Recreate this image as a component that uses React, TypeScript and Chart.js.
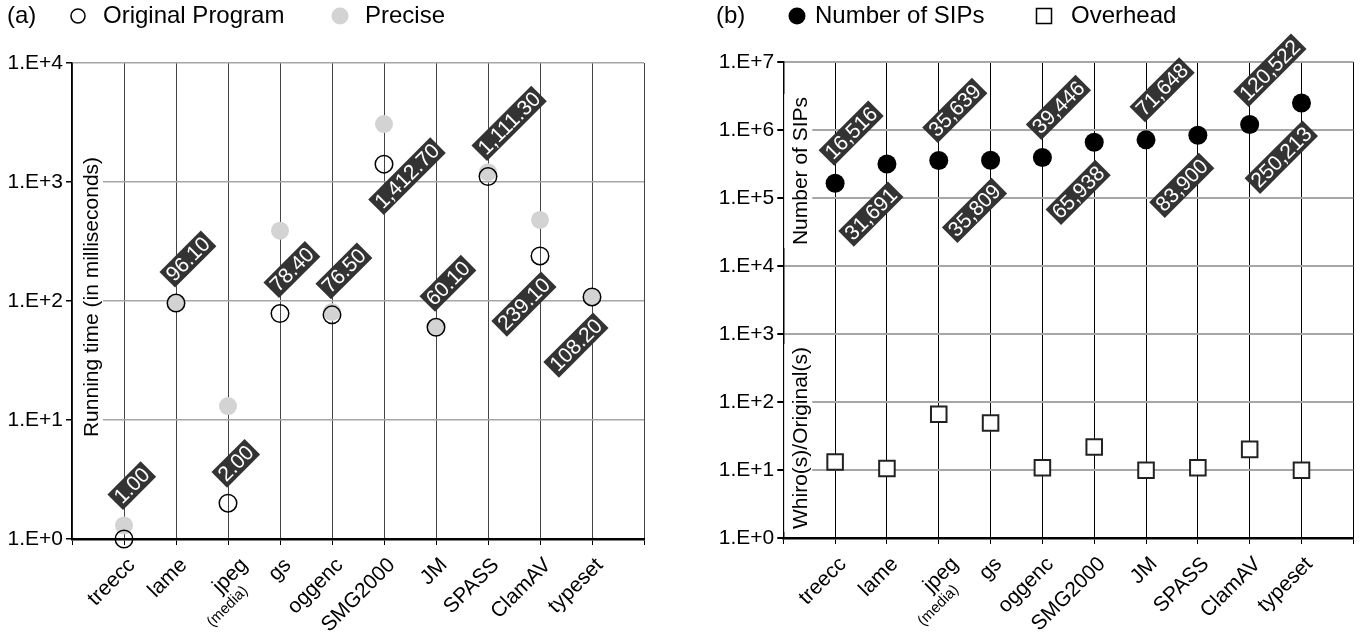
import React, { useEffect, useRef } from 'react';
import { Chart, registerables } from 'chart.js';

Chart.register(...registerables);

// ---------- data ----------
const categories = ['treecc', 'lame', 'jpeg', 'gs', 'oggenc', 'SMG2000', 'JM', 'SPASS', 'ClamAV', 'typeset'];
const categoryNotes = ['', '', '(media)', '', '', '', '', '', '', ''];

// (a) running time in milliseconds
const originalTimes = [1.0, 96.1, 2.0, 78.4, 76.5, 1412.7, 60.1, 1111.3, 239.1, 108.2];
const preciseTimes = [1.3, 96.1, 13.1, 390, 81, 3070, 60.1, 1210, 480, 108.2];
const originalLabels = ['1.00', '96.10', '2.00', '78.40', '76.50', '1,412.70', '60.10', '1,111.30', '239.10', '108.20'];
const originalLabelPlacement = ['abovePair', 'above', 'above', 'above', 'above', 'beside', 'above', 'above', 'below', 'below'];
const leftTickValues = [1, 10, 100, 1000, 10000];

// (b) number of SIPs and overhead
const sipCounts = [165160, 316910, 356390, 358090, 394460, 659380, 716480, 839000, 1205220, 2502130];
const sipLabels = ['16,516', '31,691', '35,639', '35,809', '39,446', '65,938', '71,648', '83,900', '120,522', '250,213'];
const sipLabelPlacement = ['above', 'below', 'above', 'below', 'above', 'below', 'above', 'below', 'above', 'below'];
const overheadRatios = [13.1, 10.5, 66, 49, 10.8, 21.8, 9.9, 10.8, 20.1, 9.9];
const rightTickValues = [1, 10, 100, 1000, 10000, 100000, 1000000, 10000000];

// ---------- helpers ----------
const FONT = '"Liberation Sans", Arial, Helvetica, sans-serif';
const K = Math.SQRT1_2;

function drawTag(ctx: CanvasRenderingContext2D, text: string, px: number, py: number, mode: string, r: number, gap: number) {
  ctx.save();
  ctx.font = `21px ${FONT}`;
  const tw = ctx.measureText(text).width;
  const W = tw + 6;
  const H = 22;
  let cx = px;
  let cy = py;
  if (mode === 'below') {
    const ax = px + 1;
    const ay = py + r + gap;
    cx = ax - K * (W / 2 - H / 2);
    cy = ay + K * (W / 2 + H / 2);
  } else if (mode === 'beside') {
    cx = px + 23;
    cy = py + 12;
  } else {
    const ax = px - 1;
    const ay = py - r - gap;
    cx = ax - K * (-W / 2 + H / 2);
    cy = ay - K * (W / 2 + H / 2);
  }
  ctx.translate(cx, cy);
  ctx.rotate(-Math.PI / 4);
  ctx.fillStyle = '#333333';
  ctx.fillRect(-W / 2, -H / 2, W, H);
  ctx.fillStyle = '#ffffff';
  ctx.textAlign = 'center';
  ctx.textBaseline = 'middle';
  ctx.fillText(text, 0, 1);
  ctx.restore();
}

function drawCategoryLabels(chart: any) {
  const ctx: CanvasRenderingContext2D = chart.ctx;
  const xs = chart.scales.x;
  const bottom = chart.chartArea.bottom;
  ctx.save();
  ctx.fillStyle = '#000';
  categories.forEach((c, i) => {
    const x = xs.getPixelForValue(i + 1);
    ctx.save();
    ctx.translate(x + 12, bottom + 27);
    ctx.rotate(-Math.PI / 4);
    ctx.textAlign = 'right';
    ctx.textBaseline = 'alphabetic';
    const note = categoryNotes[i];
    if (note) {
      ctx.font = `21px ${FONT}`;
      ctx.fillText(c, 6, 6);
      ctx.font = `15px ${FONT}`;
      ctx.fillText(note, -12, 24);
    } else {
      ctx.font = `21px ${FONT}`;
      ctx.fillText(c, 0, 0);
    }
    ctx.restore();
  });
  ctx.restore();
}

function drawAxisTitle(ctx: CanvasRenderingContext2D, text: string, cx: number, cy: number, boxLeft: number, boxRight: number) {
  ctx.save();
  ctx.font = `21px ${FONT}`;
  const tw = ctx.measureText(text).width;
  ctx.fillStyle = '#ffffff';
  ctx.fillRect(boxLeft, cy - tw / 2 - 3, boxRight - boxLeft, tw + 6);
  ctx.translate(cx, cy);
  ctx.rotate(-Math.PI / 2);
  ctx.fillStyle = '#000';
  ctx.textAlign = 'center';
  ctx.textBaseline = 'middle';
  ctx.fillText(text, 0, 0);
  ctx.restore();
}

function expLabel(v: any) {
  return '1.E+' + Math.round(Math.log10(Number(v)));
}

function makeScales(ticks: number[], yMax: number, yWidth: number, xHeight: number, vColor: string, hWidth: number) {
  return {
    x: {
      type: 'linear',
      min: 0,
      max: categories.length + 1,
      afterBuildTicks: (s: any) => {
        s.ticks = [0, ...categories.map((_, i) => i + 1), categories.length + 1].map((v) => ({ value: v }));
      },
      ticks: { display: false },
      grid: { color: vColor, lineWidth: 1, tickColor: '#000', tickLength: 6, drawTicks: true },
      border: { color: '#000', width: 2.5 },
      afterFit: (s: any) => {
        s.height = xHeight;
      },
    },
    y: {
      type: 'logarithmic',
      min: 1,
      max: yMax,
      afterBuildTicks: (s: any) => {
        s.ticks = ticks.map((v) => ({ value: v }));
      },
      ticks: {
        callback: (v: any) => expLabel(v),
        font: { family: FONT, size: 21 },
        color: '#000',
        padding: 3,
        autoSkip: false,
      },
      grid: { color: '#a6a6a6', lineWidth: hWidth, tickColor: '#000', tickLength: 6 },
      border: { color: '#000', width: 1.5 },
      afterFit: (s: any) => {
        s.width = yWidth;
      },
    },
  };
}

export default function App() {
  const leftRef = useRef<HTMLCanvasElement>(null);
  const rightRef = useRef<HTMLCanvasElement>(null);

  useEffect(() => {
    const leftPlugin = {
      id: 'leftDecor',
      beforeDatasetsDraw(chart: any) {
        const a = chart.chartArea;
        drawAxisTitle(chart.ctx, 'Running time (in milliseconds)', 92, 297, a.left + 1, a.left + 31);
      },
      afterDatasetsDraw(chart: any) {
        const ctx = chart.ctx;
        const orig = chart.getDatasetMeta(0).data;
        const prec = chart.getDatasetMeta(1).data;
        originalLabels.forEach((t, i) => {
          const p = orig[i];
          let mode = originalLabelPlacement[i];
          let py = p.y;
          if (mode === 'abovePair') {
            py = Math.min(p.y, prec[i].y);
            mode = 'above';
          }
          drawTag(ctx, t, p.x, py, mode, 9.5, 6);
        });
      },
      afterDraw(chart: any) {
        const ctx: CanvasRenderingContext2D = chart.ctx;
        drawCategoryLabels(chart);
        ctx.save();
        ctx.font = `24px ${FONT}`;
        ctx.fillStyle = '#000';
        ctx.textBaseline = 'middle';
        ctx.textAlign = 'left';
        ctx.fillText('(a)', 7, 16);
        ctx.beginPath();
        ctx.arc(78, 16, 7, 0, Math.PI * 2);
        ctx.lineWidth = 1.5;
        ctx.strokeStyle = '#000';
        ctx.stroke();
        ctx.fillText('Original Program', 103, 16);
        ctx.beginPath();
        ctx.arc(340, 16, 8.5, 0, Math.PI * 2);
        ctx.fillStyle = '#d3d3d3';
        ctx.fill();
        ctx.fillStyle = '#000';
        ctx.fillText('Precise', 365, 16);
        ctx.restore();
      },
    };

    const rightPlugin = {
      id: 'rightDecor',
      beforeDatasetsDraw(chart: any) {
        const a = chart.chartArea;
        drawAxisTitle(chart.ctx, 'Number of SIPs', 121, 171, a.left + 1, a.left + 29);
        drawAxisTitle(chart.ctx, 'Whiro(s)/Original(s)', 121, 438, a.left + 1, a.left + 29);
      },
      afterDatasetsDraw(chart: any) {
        const ctx = chart.ctx;
        const sip = chart.getDatasetMeta(0).data;
        sipLabels.forEach((t, i) => {
          const p = sip[i];
          drawTag(ctx, t, p.x, p.y, sipLabelPlacement[i], 9.5, 8);
        });
      },
      afterDraw(chart: any) {
        const ctx: CanvasRenderingContext2D = chart.ctx;
        drawCategoryLabels(chart);
        ctx.save();
        ctx.font = `24px ${FONT}`;
        ctx.fillStyle = '#000';
        ctx.textBaseline = 'middle';
        ctx.textAlign = 'left';
        ctx.fillText('(b)', 36, 16);
        ctx.beginPath();
        ctx.arc(117, 16, 8.5, 0, Math.PI * 2);
        ctx.fill();
        ctx.fillText('Number of SIPs', 135, 16);
        ctx.lineWidth = 1.5;
        ctx.strokeStyle = '#000';
        ctx.strokeRect(356.5, 8.5, 15, 15);
        ctx.fillText('Overhead', 391, 16);
        ctx.restore();
      },
    };

    const left = new Chart(leftRef.current as HTMLCanvasElement, {
      type: 'scatter',
      data: {
        datasets: [
          {
            label: 'Original Program',
            data: originalTimes.map((v, i) => ({ x: i + 1, y: v })),
            pointStyle: 'circle',
            pointRadius: 8.75,
            pointBackgroundColor: 'rgba(0,0,0,0)',
            pointBorderColor: '#000',
            pointBorderWidth: 1.5,
            clip: false,
          } as any,
          {
            label: 'Precise',
            data: preciseTimes.map((v, i) => ({ x: i + 1, y: v })),
            pointStyle: 'circle',
            pointRadius: 9,
            pointBackgroundColor: '#d3d3d3',
            pointBorderWidth: 0,
            clip: false,
          } as any,
        ],
      },
      options: {
        responsive: false,
        animation: false,
        events: [],
        layout: { padding: { left: 0, top: 63, right: 36, bottom: 0 } },
        plugins: { legend: { display: false }, tooltip: { enabled: false } },
        scales: makeScales(leftTickValues, 10000, 72, 94, '#444444', 1.5) as any,
      },
      plugins: [leftPlugin],
    });

    const right = new Chart(rightRef.current as HTMLCanvasElement, {
      type: 'scatter',
      data: {
        datasets: [
          {
            label: 'Number of SIPs',
            data: sipCounts.map((v, i) => ({ x: i + 1, y: v })),
            pointStyle: 'circle',
            pointRadius: 9.5,
            pointBackgroundColor: '#000',
            pointBorderWidth: 0,
            clip: false,
          } as any,
          {
            label: 'Overhead',
            data: overheadRatios.map((v, i) => ({ x: i + 1, y: v })),
            pointStyle: 'rect',
            pointRadius: 11,
            pointBackgroundColor: '#ffffff',
            pointBorderColor: '#222',
            pointBorderWidth: 2,
            clip: false,
          } as any,
        ],
      },
      options: {
        responsive: false,
        animation: false,
        events: [],
        layout: { padding: { left: 0, top: 62, right: 13.7, bottom: 0 } },
        plugins: { legend: { display: false }, tooltip: { enabled: false } },
        scales: makeScales(rightTickValues, 10000000, 103.3, 95, '#000000', 2) as any,
      },
      plugins: [rightPlugin],
    });

    return () => {
      left.destroy();
      right.destroy();
    };
  }, []);

  return (
    <div style={{ position: 'fixed', left: 0, top: 0, width: 1367, height: 633, background: '#fff' }}>
      <canvas ref={leftRef} width={680} height={633} style={{ position: 'absolute', left: 0, top: 0 }} />
      <canvas ref={rightRef} width={687} height={633} style={{ position: 'absolute', left: 680, top: 0 }} />
    </div>
  );
}
